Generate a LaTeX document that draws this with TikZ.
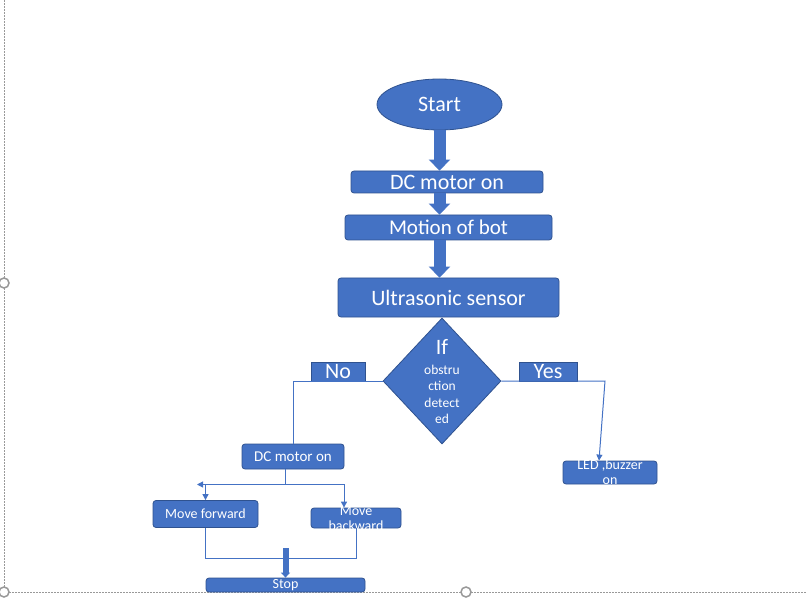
\documentclass[tikz,border=0pt]{standalone}
\usepackage{fontspec}
\setmainfont{Carlito}
\usetikzlibrary{shapes.geometric,arrows.meta}
\definecolor{boxblue}{HTML}{4472C4}
\definecolor{edgeblue}{HTML}{2F528F}
\begin{document}
\begin{tikzpicture}[x = 1pt, y = -1pt,
            box/.style = {draw = edgeblue, fill = boxblue, text = white, line width = 0.8pt, rounded corners = 3pt, inner sep = 0pt, align = center},
            tag/.style = {box, rounded corners = 0pt},
            bigtext/.style = {font = \fontsize{22}{24}\selectfont},
            smalltext/.style = {font = \fontsize{14}{15}\selectfont},
            boxtext/.style = {text = white, inner sep = 0pt, align = center, font = \fontsize{14}{15}\selectfont},
            flow/.style = {draw = boxblue, line width = 1pt},
            flowarrow/.style = {flow, -{Triangle[width = 6pt, length = 6pt]}},
            blockarrow/.style = {draw = boxblue, line width = 12pt, -{Triangle[width = 21pt, length = 11pt]}},
            smallblock/.style = {draw = boxblue, line width = 6pt, -{Triangle[width = 9pt, length = 5pt]}},
            framedot/.style = {draw = gray!80, line width = 1pt, dash pattern = on 2pt off 1pt},
            handle/.style = {draw = gray!80, fill = white, line width = 1.5pt}]
            \useasboundingbox (0, 0) rectangle (807, 607);
            \draw [framedot] (4, 0) -- (4, 592) -- (807, 592);
            \draw [handle] (4, 283) circle [radius = 5pt];
            \draw [handle] (4, 592) circle [radius = 5pt];
            \draw [handle] (466, 592) circle [radius = 5pt];
            \node [box, ellipse, bigtext, minimum width = 125pt, minimum height = 51pt] (start) at (439.5, 104.5) {Start};
            \node [box, bigtext, minimum width = 192pt, minimum height = 22pt] (dcon) at (447, 182) {DC motor on};
            \node [box, font = \fontsize{21}{24}\selectfont, minimum width = 207pt, minimum height = 25pt] (motion) at (448.5, 227.5) {Motion of bot};
            \node [box, bigtext, minimum width = 221pt, minimum height = 39pt] (sensor) at (448.5, 297.5) {Ultrasonic sensor};
            \node [box, diamond, rounded corners = 0pt, minimum width = 118pt, minimum height = 126pt] (check) at (442, 381) {};
            \node [boxtext, font = \fontsize{13.5}{16.5}\selectfont] (checktext) at (442, 382) {{\fontsize{22}{24}\selectfont If}\\[3pt]obstru\\ction\\detect\\ed};
            \node [tag, bigtext, minimum width = 54pt, minimum height = 19pt] (no) at (338, 371.5) {No};
            \node [tag, bigtext, minimum width = 58pt, minimum height = 19pt] (yes) at (548, 371.5) {Yes};
            \node [box, font = \fontsize{15}{17}\selectfont, minimum width = 102pt, minimum height = 25pt] (dcagain) at (293, 456.5) {DC motor on};
            \node [box, minimum width = 94pt, minimum height = 23pt, label = {[boxtext]center:{LED ,buzzer\\on}}] (alarm) at (610, 472.5) {};
            \node [box, smalltext, minimum width = 105pt, minimum height = 27pt] (forward) at (205.5, 514) {Move forward};
            \node [box, minimum width = 90pt, minimum height = 20pt, label = {[boxtext, yshift = -1pt]center:{Move\\backward}}] (backward) at (356, 518) {};
            \node [box, smalltext, minimum width = 159pt, minimum height = 14pt] (stop) at (285.5, 585) {Stop};
            \draw [blockarrow] (start.south) -- (start.south |- dcon.north);
            \draw [blockarrow] (dcon.south -| start) -- (motion.north -| start);
            \draw [blockarrow] (motion.south -| start) -- (sensor.north -| start);
            \draw [flow] (check.west) -| (dcagain.north);
            \coordinate (yescorner) at (605, 381);
            \coordinate (yestip) at (599, 461);
            \draw [flowarrow] (check.east) -- (yescorner) -- (yestip |- alarm.north);
            \coordinate (split) at (285, 484.5);
            \coordinate (leftend) at (197, 484.5);
            \coordinate (rightcorner) at (344, 484.5);
            \draw [flow] (dcagain.south -| split) -- (split);
            \draw [flowarrow] (split) -- (leftend);
            \draw [flowarrow] (forward.north |- split) -- (forward.north);
            \draw [flowarrow] (split) -- (rightcorner) -- (rightcorner |- backward.north);
            \coordinate (join) at (0, 558);
            \draw [flow] (forward.south) -- (forward.south |- join) -- (backward.south |- join) -- (backward.south);
            \coordinate (stoptail) at (285.5, 548);
            \draw [smallblock] (stoptail) -- (stop.north);
        \end{tikzpicture}
\end{document}
